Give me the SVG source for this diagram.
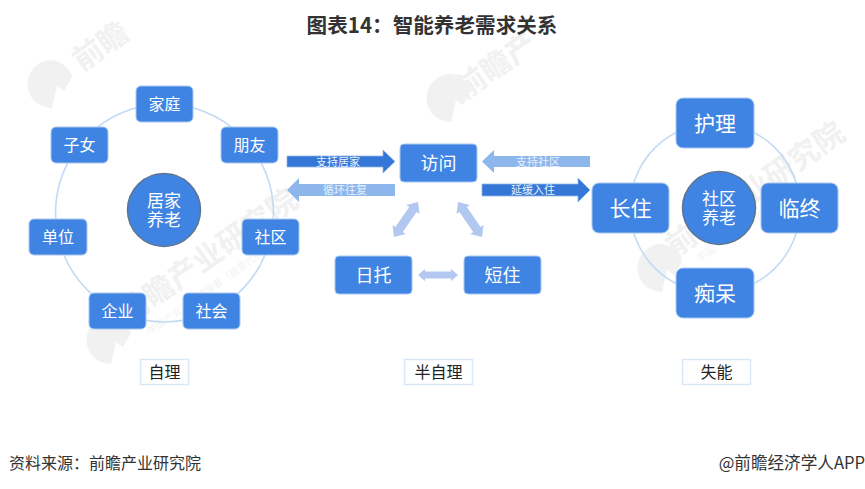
<svg xmlns="http://www.w3.org/2000/svg" width="865" height="489" viewBox="0 0 865 489">
<style>
text{font-family:"Noto Sans CJK SC","Noto Sans",sans-serif;text-anchor:middle}
.box{fill:#3f84e2;stroke:#a9c8f0;stroke-width:1}
.hub{fill:#3f84e2;stroke:#5d7590;stroke-width:1.5}
.ring{fill:none;stroke:#c3daf5;stroke-width:1.6}
.s{font-size:16px;fill:#fff}
.m{font-size:17px;fill:#fff}
.l{font-size:21px;fill:#fff}
.h{font-size:18px;fill:#fff}
.tag{fill:#fff;stroke:#dbe7f7;stroke-width:1.5}
.tagt{font-size:16px;fill:#222}
.wm{font-size:30px;fill:#f1f1f1;font-weight:700;text-anchor:start}
.wms{font-size:10px;fill:#f3f3f3;text-anchor:start}
.logo{fill:#f1f1f1}
.dk{fill:#3577d6;stroke:#8fb5ea;stroke-width:.8}
.lt{fill:#8db6ec}
.dbl{fill:#b2c8f0}
.al{font-size:11px;fill:#e8f1fc}
.fo{font-size:16px;fill:#333}
</style>
<rect width="865" height="489" fill="#fff"/>
<g id="watermarks">
<path class="logo" id="lg" d="M51 60a24 24 0 1 0 1 48l5-22 7 5 8-14a24 24 0 0 0-21-17Z"/>
<text class="wm" x="82" y="72" transform="rotate(-35 82 72)">前瞻</text>
<path class="logo" d="M450 74a24 24 0 1 0 1 48l5-22 7 5 8-14a24 24 0 0 0-21-17Z"/>
<text class="wm" x="465" y="100" transform="rotate(-35 465 100)">前瞻产</text>
<path class="logo" d="M110 316a24 24 0 1 0 1 48l5-22 7 5 8-14a24 24 0 0 0-21-17Z"/>
<text class="wm" x="128" y="325" transform="rotate(-35 128 325)">前瞻产业研究院</text>
<text class="wms" x="150" y="335" transform="rotate(-35 150 335)">中国产业咨询领导者（股票代码：839979）</text>
<path class="logo" d="M661 244a24 24 0 1 0 1 48l5-22 7 5 8-14a24 24 0 0 0-21-17Z"/>
<text class="wm" x="675" y="258" transform="rotate(-35 675 258)">前瞻产业研究院</text>
<text class="wms" x="700" y="262" transform="rotate(-35 700 262)">中国产业咨询领导者 839979</text>
</g>
<text id="title" x="432" y="33" font-size="20.600" font-weight="700" fill="#333">图表14：智能养老需求关系</text>
<g id="connectors">
<circle class="ring" cx="164.500" cy="213" r="109"/>
<circle class="ring" cx="715" cy="208" r="85"/>
<path class="dk" d="M287 156H383V150L395 161.500L383 173V167H287Z"/>
<path class="lt" d="M395 184H299V178L287 190L299 202V196H395Z"/>
<path class="lt" d="M590 156H494V150L482 161.500L494 173V167H590Z"/>
<path class="dk" d="M482 184H578V178L590 190L578 202V196H482Z"/>
<path class="dbl" d="M418 202L419.500 213.900L416.600 212L402.800 232.100L405.700 234.100L394 237L392.500 225.100L395.400 227.100L409.200 206.900L406.300 204.900Z"/>
<path class="dbl" d="M458 202L456.500 213.900L459.400 212L473.200 232.100L470.300 234.100L482 237L483.500 225.100L480.600 227.100L466.800 206.900L469.700 204.900Z"/>
<path class="dbl" d="M418 275L425 269V271.500H451V269L458 275L451 281V278.500H425V281Z"/>
<text class="al" x="338" y="165.500">支持居家</text>
<text class="al" x="345" y="194">循环往复</text>
<text class="al" x="538" y="165.500">支持社区</text>
<text class="al" x="533" y="194">延缓入住</text>
</g>
<g id="n-jujia"><circle class="hub" cx="164" cy="210" r="36.500"/><text class="m" x="164"><tspan x="164" y="207">居家</tspan><tspan x="164" y="226">养老</tspan></text></g>
<g id="n-jiating"><rect class="box" x="136" y="86" width="57" height="36" rx="5"/><text class="s" x="164.500" y="109.500">家庭</text></g>
<g id="n-pengyou"><rect class="box" x="221" y="127" width="57" height="36" rx="5"/><text class="s" x="249.500" y="150.500">朋友</text></g>
<g id="n-zinv"><rect class="box" x="51" y="127" width="57" height="36" rx="5"/><text class="s" x="79.500" y="150.500">子女</text></g>
<g id="n-danwei"><rect class="box" x="29" y="219" width="58" height="36" rx="5"/><text class="s" x="58" y="243">单位</text></g>
<g id="n-shequ"><rect class="box" x="242" y="219" width="57" height="36" rx="5"/><text class="s" x="270.500" y="243">社区</text></g>
<g id="n-qiye"><rect class="box" x="89" y="293" width="57" height="36" rx="5"/><text class="s" x="117.500" y="316.500">企业</text></g>
<g id="n-shehui"><rect class="box" x="183" y="293" width="57" height="36" rx="5"/><text class="s" x="211.500" y="316.500">社会</text></g>
<g id="n-fangwen"><rect class="box" x="400" y="144" width="77" height="38" rx="4"/><text class="h" x="438.500" y="169.500">访问</text></g>
<g id="n-rituo"><rect class="box" x="335" y="256" width="77" height="38" rx="4"/><text class="h" x="373.500" y="281.500">日托</text></g>
<g id="n-duanzhu"><rect class="box" x="464" y="256" width="77" height="38" rx="4"/><text class="h" x="502.500" y="281.500">短住</text></g>
<g id="n-shequyanglao"><circle class="hub" cx="719" cy="208" r="36.500"/><text class="m"><tspan x="719" y="205">社区</tspan><tspan x="719" y="224">养老</tspan></text></g>
<g id="n-huli"><rect class="box" x="676" y="98" width="78" height="50" rx="7"/><text class="l" x="715" y="130.500">护理</text></g>
<g id="n-changzhu"><rect class="box" x="592" y="183" width="77" height="50" rx="7"/><text class="l" x="630.500" y="215.500">长住</text></g>
<g id="n-linzhong"><rect class="box" x="761" y="183" width="77" height="50" rx="7"/><text class="l" x="799.500" y="215.500">临终</text></g>
<g id="n-chidai"><rect class="box" x="676" y="268" width="78" height="50" rx="7"/><text class="l" x="715" y="300.500">痴呆</text></g>
<g id="tag-zili"><rect class="tag" x="140.500" y="359.500" width="48" height="25"/><text class="tagt" x="164.500" y="378">自理</text></g>
<g id="tag-banzili"><rect class="tag" x="404.500" y="359.500" width="68" height="25"/><text class="tagt" x="438.500" y="378">半自理</text></g>
<g id="tag-shineng"><rect class="tag" x="682.500" y="359.500" width="68" height="25"/><text class="tagt" x="716.500" y="378">失能</text></g>
<text class="fo" x="9" y="469" style="text-anchor:start">资料来源：前瞻产业研究院</text>
<text class="fo" x="865" y="469" style="text-anchor:end;font-size:16.600px">@前瞻经济学人APP</text>
</svg>
